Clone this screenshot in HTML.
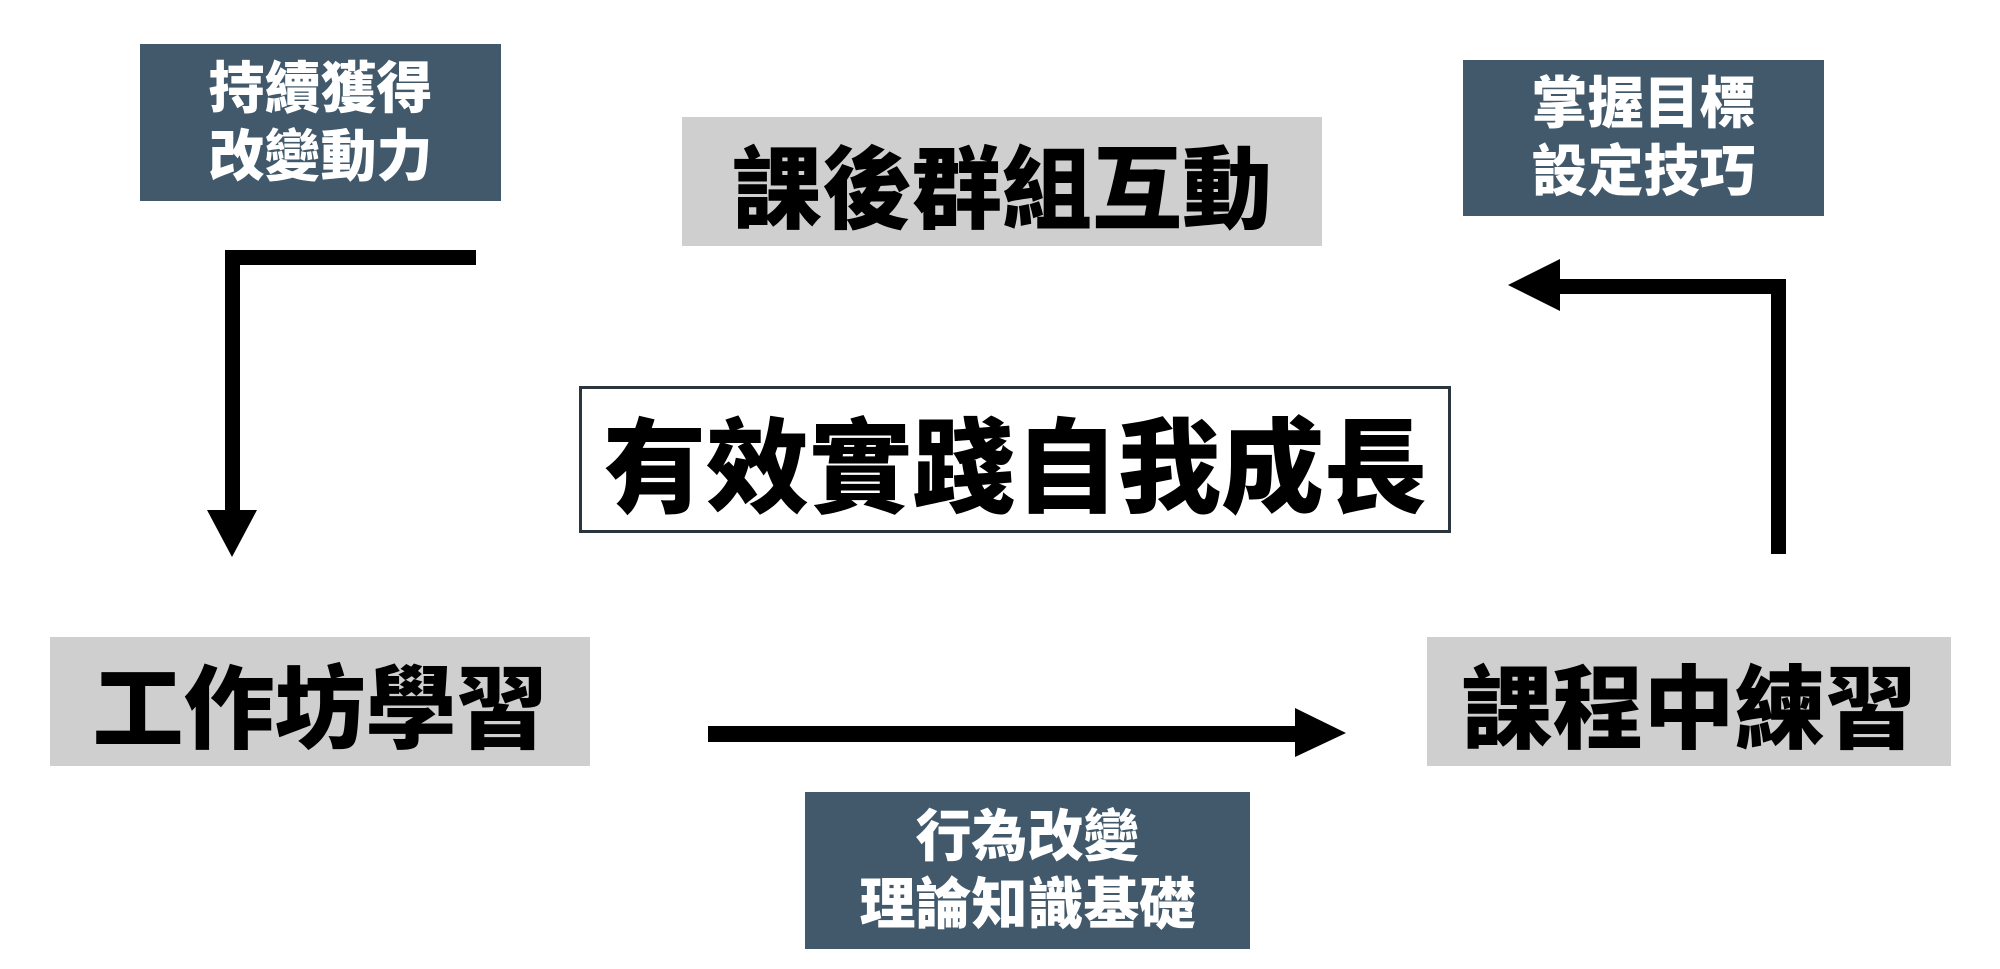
<!DOCTYPE html>
<html><head><meta charset="utf-8"><style>
html,body{margin:0;padding:0;background:#fff;}
body{width:2000px;height:969px;position:relative;overflow:hidden;font-family:"Liberation Sans","Noto Sans CJK TC",sans-serif;font-weight:900;}
.b{position:absolute;display:flex;align-items:center;justify-content:center;text-align:center;white-space:nowrap;}
.dk{background:#41596b;color:#fff;font-size:56px;line-height:68px;}
.gr{background:#d0cfcf;color:#000;font-size:91px;}
</style></head><body>
<div class="b dk" style="left:140px;top:44px;width:361px;height:157px;">持續獲得<br>改變動力</div>
<div class="b dk" style="left:1463px;top:60px;width:361px;height:156px;">掌握目標<br>設定技巧</div>
<div class="b dk" style="left:805px;top:792px;width:445px;height:157px;">行為改變<br>理論知識基礎</div>
<div class="b gr" style="left:682px;top:117px;width:640px;height:129px;font-size:90px;">課後群組互動</div>
<div class="b gr" style="left:50px;top:637px;width:540px;height:129px;">工作坊學習</div>
<div class="b gr" style="left:1427px;top:637px;width:524px;height:129px;">課程中練習</div>
<div class="b" style="left:579px;top:386px;width:866px;height:141px;border:3px solid #2a3540;background:#fff;font-size:103px;">有效實踐自我成長</div>
<svg width="2000" height="969" style="position:absolute;left:0;top:0">
<polygon points="476,250 225,250 225,510 207,510 232,557 257,510 240,510 240,265 476,265" fill="#000"/>
<polygon points="1771,554 1786,554 1786,279 1560,279 1560,259 1508,285 1560,311 1560,294 1771,294" fill="#000"/>
<polygon points="708,726 1295,726 1295,708 1346,733 1295,757 1295,742 708,742" fill="#000"/>
</svg>
</body></html>
